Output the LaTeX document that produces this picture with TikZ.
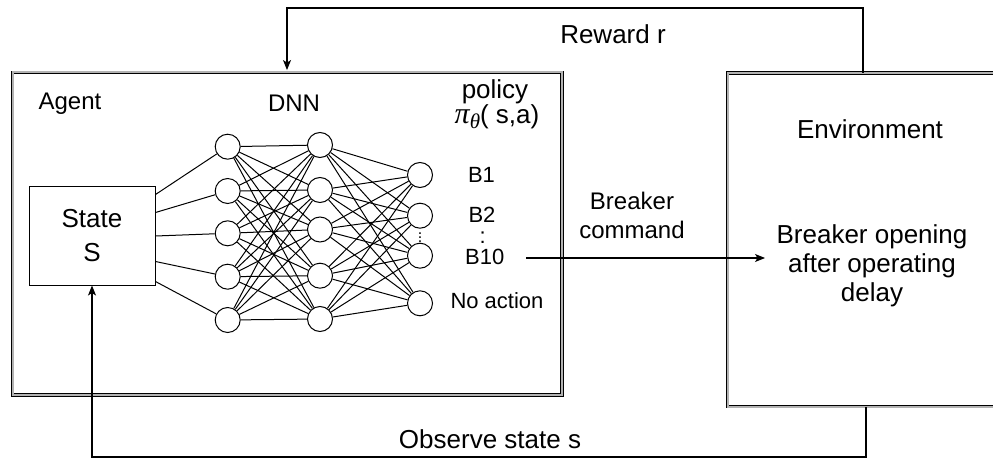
\documentclass[tikz,border=0pt]{standalone}
\usepackage{fontspec}
\setmainfont{Liberation Sans}
\newfontfamily\serifit{Liberation Serif}
\usetikzlibrary{arrows.meta,calc}
\begin{document}
\begin{tikzpicture}[x=1pt,y=-1pt,
  dbox/.style={draw=black, line width=0.9pt, double=gray!60, double distance=2pt, inner sep=0pt},
  sbox/.style={draw=black, line width=1pt, inner sep=0pt, align=center, font=\fontsize{26}{34}\selectfont},
  neuron/.style={draw=black, circle, fill=white, line width=1pt, minimum size=25pt, inner sep=0pt},
  edge/.style={draw=black, line width=1pt},
  arrow/.style={draw=black, line width=1.1pt, -{Stealth[length=10pt,width=8pt,inset=2.5pt]}},
  tA/.style={font=\fontsize{26}{29}\selectfont, align=center, inner sep=0pt},
  tB/.style={font=\fontsize{24}{29}\selectfont, align=center, inner sep=0pt},
  tC/.style={font=\fontsize{22}{22}\selectfont, inner sep=0pt}
]
\clip (0,0) rectangle (993,460);
\fill[white] (0,0) rectangle (993,460);

% boxes
\node[dbox, minimum width=549.5pt, minimum height=322.5pt] (agent) at (287.25,233.75) {};
\node[dbox, minimum width=287pt, minimum height=333.5pt] (env) at (871,239.75) {};
\node[sbox, minimum width=126pt, minimum height=99pt] (state) at (92,235.5) {State\\S};

% neurons
\node[neuron] (a1) at (227.7,146.7) {};
\node[neuron] (a2) at (227.7,191) {};
\node[neuron] (a3) at (227.7,233.3) {};
\node[neuron] (a4) at (227.7,276.7) {};
\node[neuron] (a5) at (227.7,320) {};
\node[neuron] (b1) at (320,145) {};
\node[neuron] (b2) at (320,190) {};
\node[neuron] (b3) at (320,229.5) {};
\node[neuron] (b4) at (320,275.7) {};
\node[neuron] (b5) at (320,319) {};
\node[neuron] (c1) at (420,175) {};
\node[neuron] (c2) at (420,215.7) {};
\node[neuron] (c3) at (420,255.7) {};
\node[neuron] (c4) at (420,303.3) {};

% input connections
\foreach \f/\j in {0.09/1,0.27/2,0.505/3,0.76/4,0.96/5}{
  \coordinate (s\j) at ($(state.north east)!\f!(state.south east)$);
  \draw[edge] (s\j) -- (a\j);
}
\foreach \i in {1,...,5}{
  \foreach \j in {1,...,5}{
    \draw[edge] (a\i) -- (b\j);
  }
}
\foreach \i in {1,...,5}{
  \foreach \j in {1,...,4}{
    \draw[edge] (b\i) -- (c\j);
  }
}
\node[inner sep=0pt, font=\fontsize{16}{16}\selectfont] (vd) at (420,234.5) {$\vdots$};

% labels
\node[tB, anchor=base] (agentlbl) at (70,110) {Agent};
\node[tB, anchor=base] (dnn) at (294,111.5) {DNN};
\node[tA, anchor=base] (policy) at (495,99) {policy};
\node[tA, anchor=base] (pi) at (497,123) {{\serifit\itshape\fontsize{30}{30}\selectfont π}\raisebox{-5pt}{\serifit\itshape\fontsize{21}{21}\selectfont θ}( s,a)};
\node[tC, anchor=base] (lb1) at (481.5,182.3) {B1};
\node[tC, anchor=base] (lb2) at (482,222.7) {B2};
\node[tC, anchor=base] (lcol) at (482.7,243.5) {:};
\node[tC, anchor=base] (lb10) at (484.7,264) {B10};
\node[tC, anchor=base] (lna) at (497,308.3) {No action};
\node[tB] (cmd) at (632,215.4) {Breaker\\command};
\node[tA, anchor=base] (envlbl) at (870,138) {Environment};
\node[tA] (envtxt) at (872,266) {Breaker opening\\after operating\\delay};
\node[tA, anchor=base] (reward) at (613,44) {Reward r};
\node[tA, anchor=base] (observe) at (490,448) {Observe state s};

% connectors
\coordinate (cmdstart) at (526,258);
\coordinate (cmdend) at (765,258);
\draw[arrow] (cmdstart) -- (cmdend);
\draw[arrow, shorten >=2pt] (env.north -| 863,0) -- (863,8) -- (287,8) -- (agent.north -| 287,0);
\draw[arrow] (env.south -| 866,0) -- (866,457) -| (state.south);
\end{tikzpicture}
\end{document}
